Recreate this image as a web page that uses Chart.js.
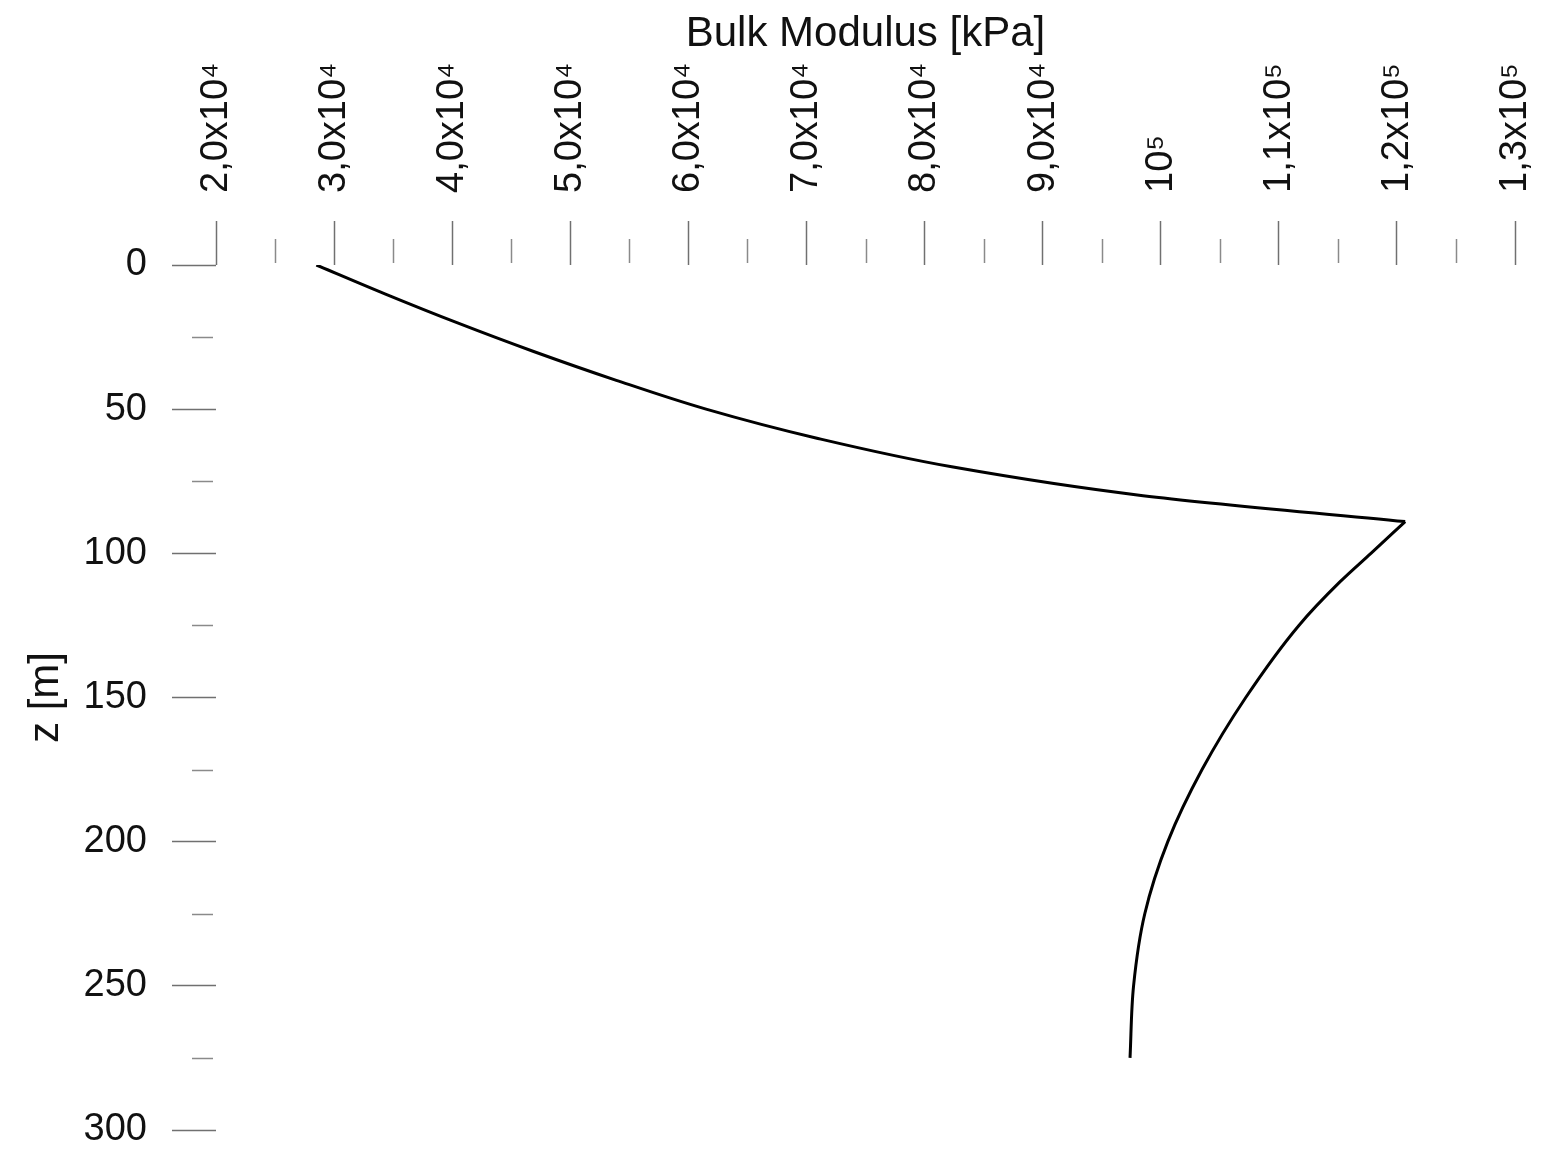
<!DOCTYPE html>
<html>
<head>
<meta charset="utf-8">
<title>Bulk Modulus</title>
<script src="https://cdn.jsdelivr.net/npm/chart.js@4.4.1/dist/chart.umd.min.js"></script>
<style>
  html, body { margin: 0; padding: 0; background: #fff; }
  canvas { display: block; }
</style>
</head>
<body>
<canvas id="grafica" width="1556" height="1160"></canvas>
<script>
// datos
const depthUpper = [0, 10, 20, 30, 40, 50, 60, 70, 80, 89];
const modulusUpper = [28500, 34300, 40400, 46900, 53900, 61500, 70800, 82300, 98500, 120700];
const depthLower = [89, 100, 110, 125, 150, 175, 200, 225, 250, 275];
const modulusLower = [120700, 117800, 115150, 111700, 107200, 103500, 100600, 98650, 97700, 97400];

const xTicks = [20000, 30000, 40000, 50000, 60000, 70000, 80000, 90000, 100000, 110000, 120000, 130000];
const xTickLabels = ["2,0x10⁴", "3,0x10⁴", "4,0x10⁴", "5,0x10⁴", "6,0x10⁴", "7,0x10⁴",
  "8,0x10⁴", "9,0x10⁴", "10⁵", "1,1x10⁵", "1,2x10⁵", "1,3x10⁵"];
const yTicks = [0, 50, 100, 150, 200, 250, 300];

const FONT = "'Liberation Sans', Arial, Helvetica, sans-serif";

const toPoints = (zs, ks) => zs.map((z, i) => ({ x: ks[i], y: z }));

// ticks menores entre los mayores
const minorTicks = {
  id: "minorTicks",
  afterDraw(chart) {
    const { ctx, chartArea, scales } = chart;
    ctx.save();
    ctx.strokeStyle = "#8a8a8a";
    ctx.lineWidth = 1.5;
    const xs = scales.x.ticks.map(t => t.value);
    for (let i = 0; i < xs.length - 1; i++) {
      const px = Math.round(scales.x.getPixelForValue((xs[i] + xs[i + 1]) / 2)) + 0.5;
      ctx.beginPath();
      ctx.moveTo(px, chartArea.top - 26);
      ctx.lineTo(px, chartArea.top - 2);
      ctx.stroke();
    }
    const ys = scales.y.ticks.map(t => t.value);
    for (let i = 0; i < ys.length - 1; i++) {
      const py = Math.round(scales.y.getPixelForValue((ys[i] + ys[i + 1]) / 2)) + 0.5;
      ctx.beginPath();
      ctx.moveTo(chartArea.left - 24, py);
      ctx.lineTo(chartArea.left - 3, py);
      ctx.stroke();
    }
    ctx.restore();
  }
};

const lineStyle = {
  borderColor: "#000",
  borderWidth: 3,
  pointRadius: 0,
  fill: false,
  cubicInterpolationMode: "monotone"
};

new Chart(document.getElementById("grafica"), {
  type: "line",
  data: {
    datasets: [
      { label: "0-89 m", data: toPoints(depthUpper, modulusUpper), ...lineStyle },
      { label: "89-275 m", data: toPoints(depthLower, modulusLower), ...lineStyle }
    ]
  },
  options: {
    indexAxis: "y",
    responsive: false,
    animation: false,
    devicePixelRatio: 1,
    layout: { padding: { top: 0, left: 0, right: 41, bottom: 30 } },
    plugins: {
      legend: { display: false },
      tooltip: { enabled: false }
    },
    scales: {
      x: {
        type: "linear",
        position: "top",
        min: 20000,
        max: 130000,
        afterBuildTicks: s => { s.ticks = xTicks.map(v => ({ value: v })); },
        afterFit: s => { s.height = 265; s.paddingLeft = 0; s.paddingRight = 0; },
        ticks: {
          minRotation: 90,
          maxRotation: 90,
          autoSkip: false,
          padding: 28,
          labelOffset: 46,
          color: "#111",
          font: { family: FONT, size: 38 },
          callback: (v, i) => xTickLabels[i]
        },
        grid: {
          drawOnChartArea: false,
          drawTicks: true,
          tickLength: 44,
          tickColor: "#707070",
          tickWidth: 1.5
        },
        border: { display: false },
        title: {
          display: true,
          text: "Bulk Modulus [kPa]",
          color: "#111",
          font: { family: FONT, size: 42 },
          padding: { top: 9, bottom: 0 }
        }
      },
      y: {
        type: "linear",
        reverse: true,
        min: 0,
        max: 300,
        afterBuildTicks: s => { s.ticks = yTicks.map(v => ({ value: v })); },
        afterFit: s => { s.width = 216; s.paddingTop = 0; s.paddingBottom = 0; },
        ticks: {
          padding: 25,
          color: "#111",
          font: { family: FONT, size: 38 }
        },
        grid: {
          drawOnChartArea: false,
          drawTicks: true,
          tickLength: 44,
          tickColor: "#707070",
          tickWidth: 1.5
        },
        border: { display: false },
        title: {
          display: true,
          text: "z [m]",
          color: "#111",
          font: { family: FONT, size: 42 },
          padding: { top: 21, bottom: 0 }
        }
      }
    }
  },
  plugins: [minorTicks]
});
</script>
</body>
</html>
